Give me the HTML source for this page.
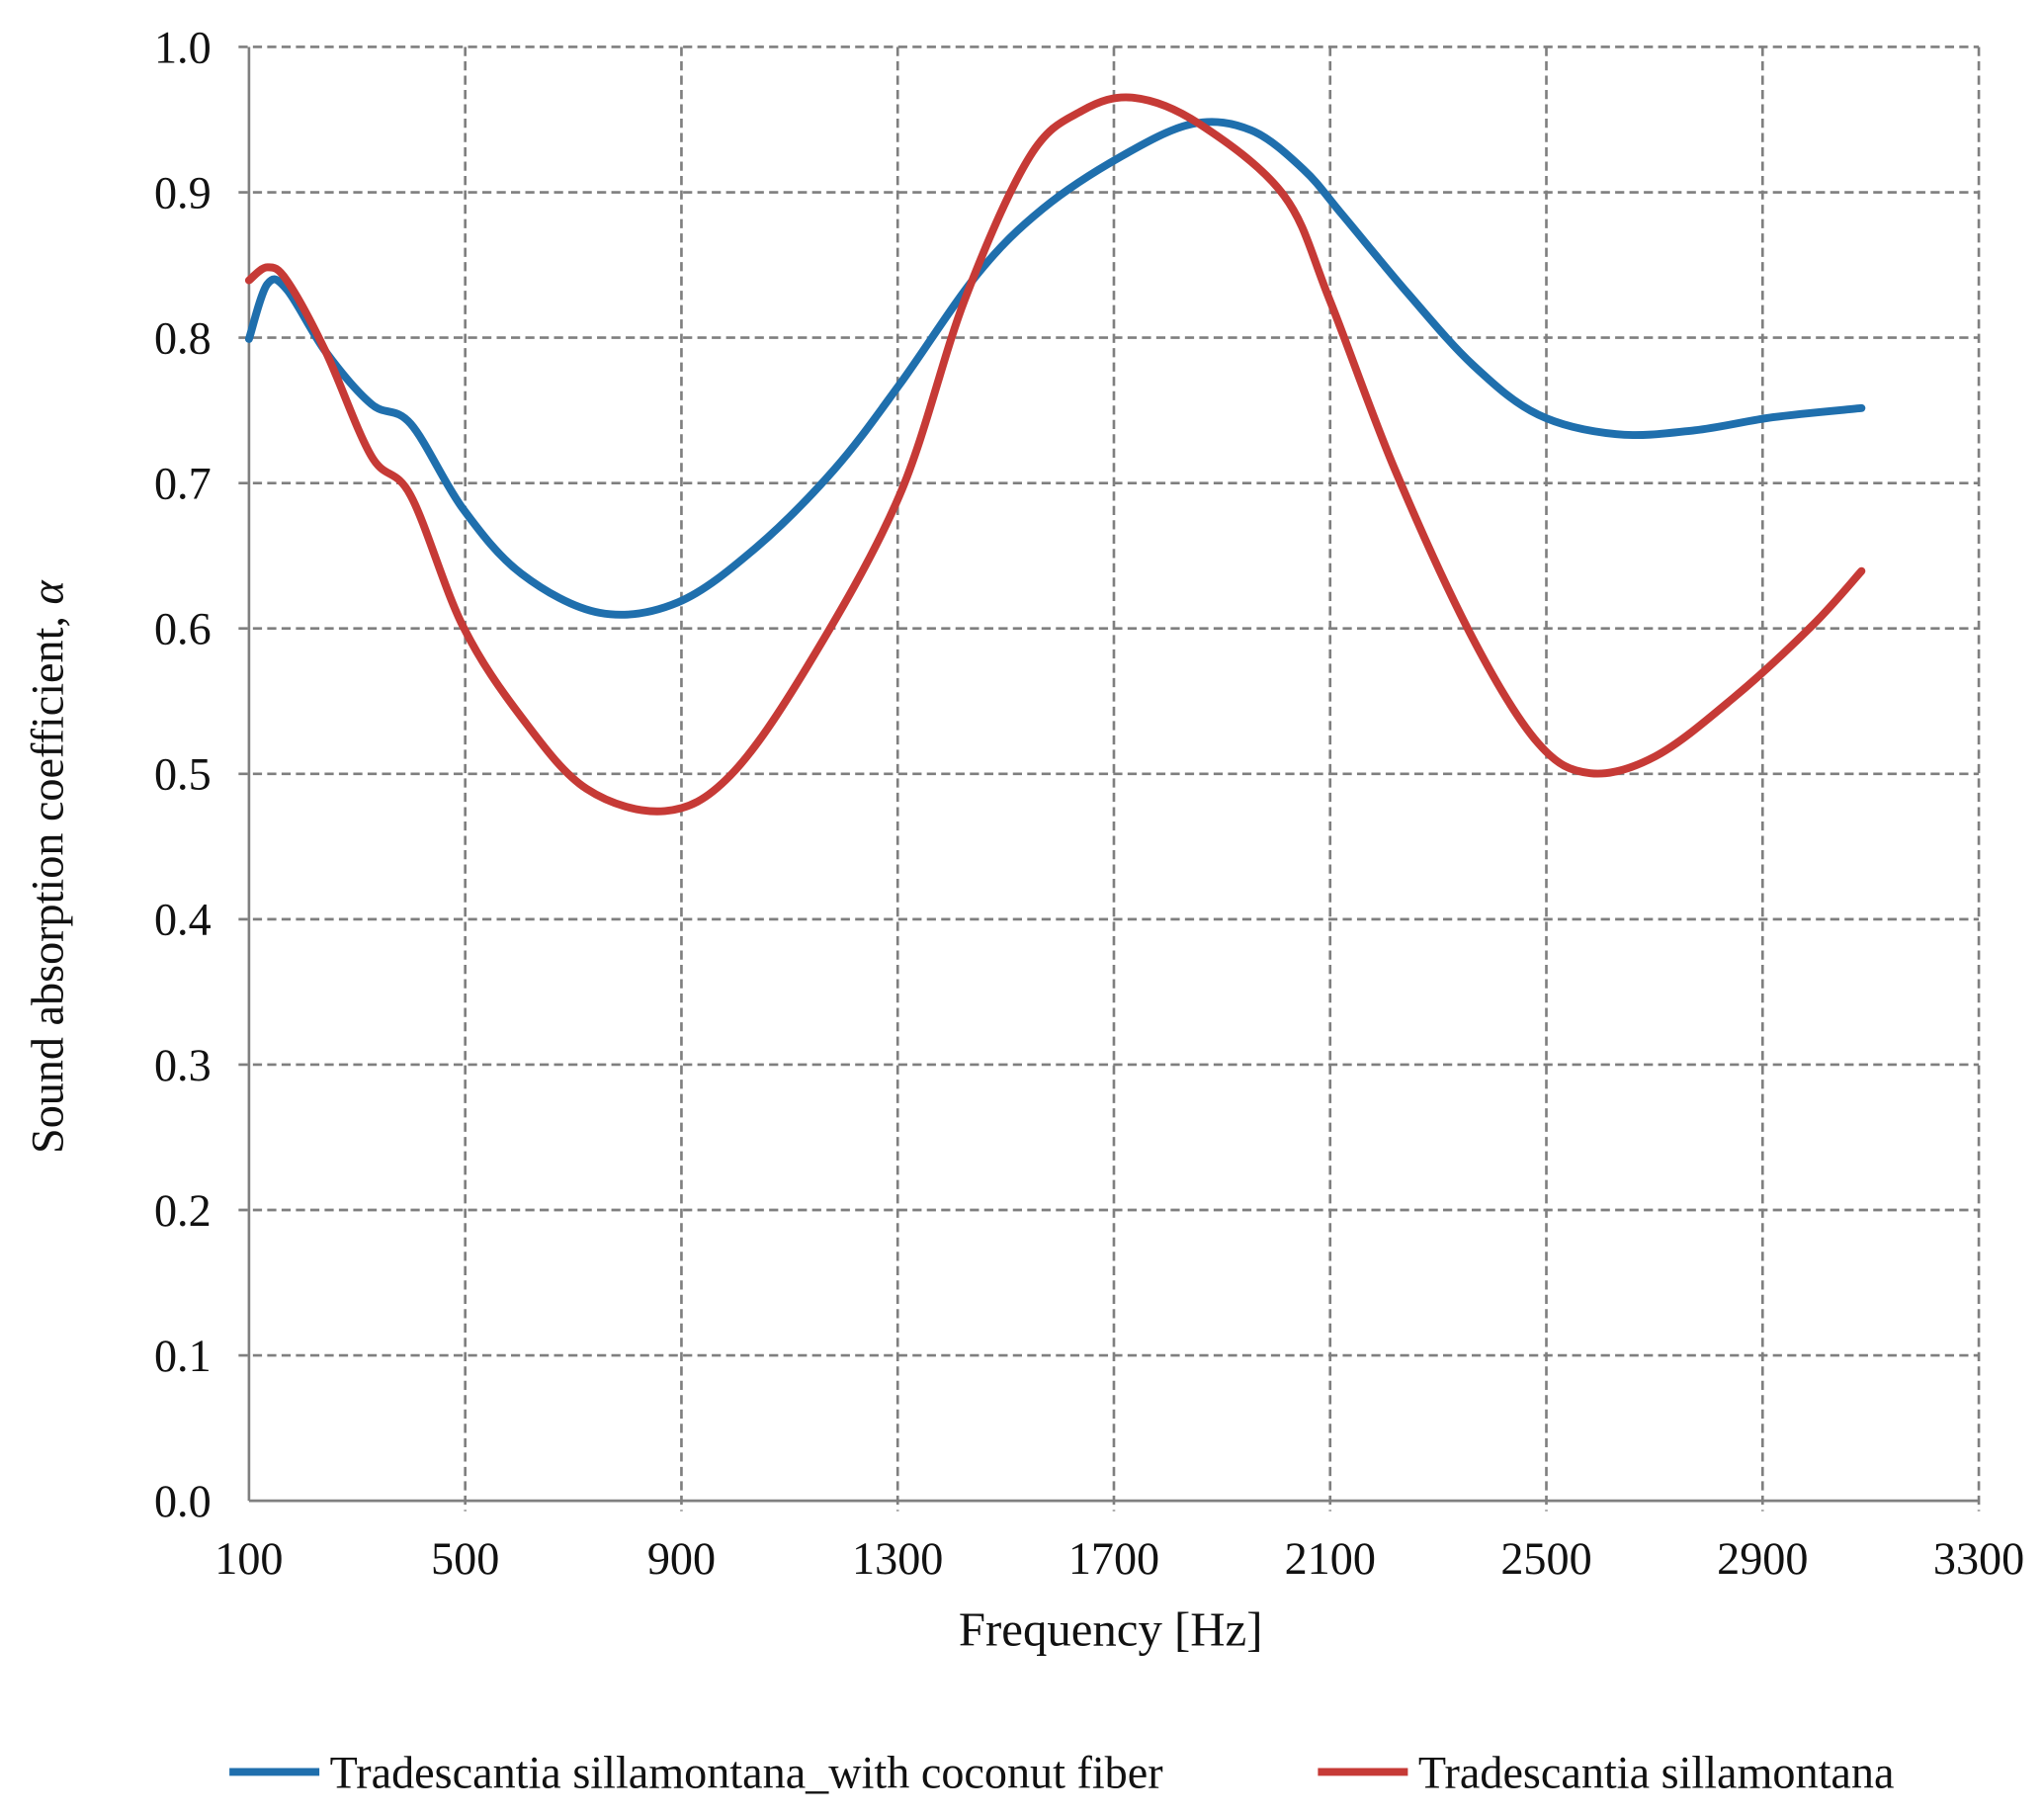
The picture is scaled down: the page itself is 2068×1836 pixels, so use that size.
<!DOCTYPE html>
<html><head><meta charset="utf-8"><style>
html,body{margin:0;padding:0;background:#fff;}
svg{display:block;}
text{font-family:"Liberation Serif",serif;fill:#111;}
</style></head><body>
<svg id="s" width="2068" height="1836" viewBox="0 0 1568 1392" preserveAspectRatio="none" xmlns="http://www.w3.org/2000/svg">
<g id="grid" stroke="#7f7f7f" stroke-width="2" stroke-dasharray="7,4" fill="none"></g>
<line x1="191" y1="36" x2="191" y2="1151" stroke="#808080" stroke-width="2"/>
<line x1="191" y1="1151" x2="1518" y2="1151" stroke="#808080" stroke-width="2"/>
<g id="lab" font-size="35"></g>
<text x="852" y="1262" font-size="37" text-anchor="middle">Frequency [Hz]</text>
<text transform="translate(48,665) rotate(-90)" font-size="35" text-anchor="middle">Sound absorption coefficient, <tspan font-style="italic">α</tspan></text>
<path id="blue" fill="none" stroke="#1f6fad" stroke-width="6" stroke-linecap="round"/>
<path id="red" fill="none" stroke="#c63a36" stroke-width="6" stroke-linecap="round"/>
<line x1="176" y1="1359" x2="245" y2="1359" stroke="#1f6fad" stroke-width="6"/>
<text x="253" y="1371" font-size="35">Tradescantia sillamontana_with coconut fiber</text>
<line x1="1011" y1="1359" x2="1080" y2="1359" stroke="#c63a36" stroke-width="6"/>
<text x="1088" y="1371" font-size="35">Tradescantia sillamontana</text>
</svg>
<script>
var NS="http://www.w3.org/2000/svg",g=document.getElementById("grid"),lab=document.getElementById("lab");
function el(p,t,a,txt){var e=document.createElementNS(NS,t);for(var k in a)e.setAttribute(k,a[k]);if(txt)e.textContent=txt;p.appendChild(e);return e;}
for(var i=0;i<=10;i++){var y=1151-i*111.5;
 if(i>0)el(g,"line",{x1:183,y1:y,x2:1518,y2:y});
 el(lab,"text",{x:162,y:y+12,"text-anchor":"end"},(i/10).toFixed(1));}
for(var j=0;j<=8;j++){var x=191+j*1327/8;
 if(j>0)el(g,"line",{x1:x,y1:36,x2:x,y2:1159});
 el(lab,"text",{x:x,y:1207,"text-anchor":"middle"},String(100+400*j));}
function path(p){var d="M"+p[0][0]+","+p[0][1];
 for(var i=0;i<p.length-1;i++){var p0=p[i-1]||p[i],p1=p[i],p2=p[i+1],p3=p[i+2]||p2;
  d+=" C"+(p1[0]+(p2[0]-p0[0])/6)+","+(p1[1]+(p2[1]-p0[1])/6)+" "+(p2[0]-(p3[0]-p1[0])/6)+","+(p2[1]-(p3[1]-p1[1])/6)+" "+p2[0]+","+p2[1];}
 return d;}
var B=[[191,260],[205,218],[220,222],[250,270],[285,310],[315,325],[355,390],[400,440],[460,470],[520,462],[580,420],[640,360],[690,295],[750,210],[800,160],[860,120],[915,95],[960,100],[1000,130],[1030,165],[1080,225],[1130,280],[1180,318],[1240,333],[1300,330],[1360,320],[1428,313]];
var R=[[191,215],[205,205],[220,215],[250,270],[285,350],[315,380],[355,480],[400,550],[450,605],[510,622],[560,595],[620,510],[690,380],[740,230],[790,120],[830,85],[870,75],[920,95],[985,150],[1020,230],[1070,360],[1130,490],[1180,570],[1220,593],[1270,580],[1330,535],[1390,480],[1428,438]];
document.getElementById("blue").setAttribute("d",path(B));
document.getElementById("red").setAttribute("d",path(R));
</script>
</body></html>
